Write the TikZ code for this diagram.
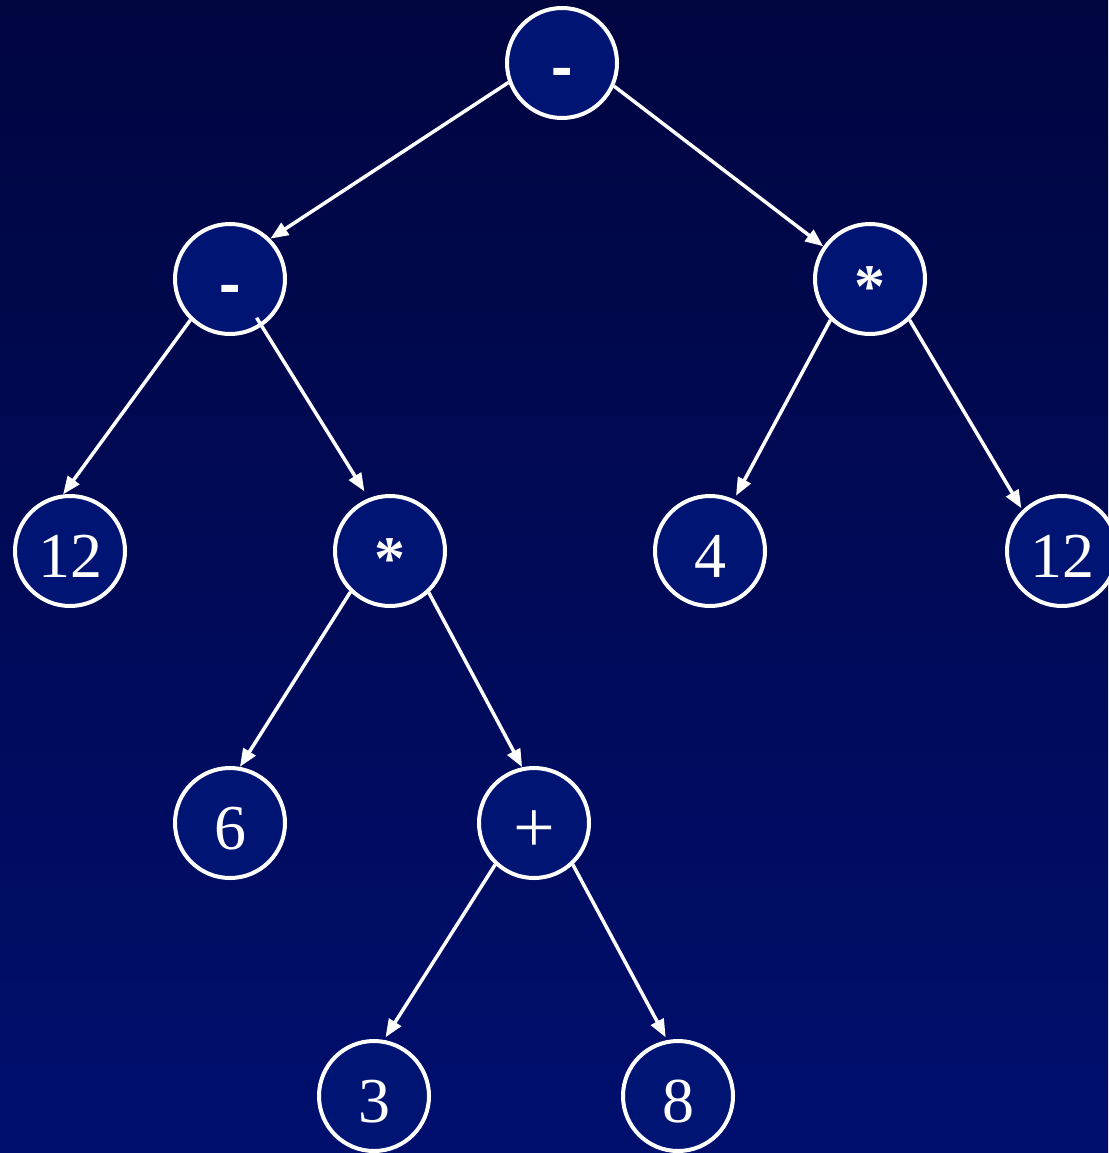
\documentclass[tikz,border=0pt]{standalone}
\usepackage{fontspec}
\setmainfont{Liberation Serif}
\usetikzlibrary{arrows.meta}
\definecolor{bgtop}{RGB}{0,5,64}
\definecolor{bgbot}{RGB}{0,15,110}
\definecolor{nodefill}{RGB}{0,20,115}
\begin{document}
\begin{tikzpicture}[x=1pt,y=-1pt,
  tnode/.style={circle,draw=white,line width=4pt,fill=nodefill,minimum size=110pt,
    inner sep=0pt,text=white,font=\fontsize{64}{70}\selectfont,text height=52pt,text depth=0pt},
  opnode/.style={tnode,font=\fontsize{64}{70}\selectfont\bfseries,text height=58pt},
  starnode/.style={tnode,font=\fontsize{62}{70}\selectfont\bfseries,text height=56pt},
  plusnode/.style={tnode,font=\fontsize{74}{80}\selectfont,text height=58pt},
  arr/.style={draw=white,line width=3.5pt,-{Triangle[length=18pt,width=14pt]}}]
\useasboundingbox (0,0) rectangle (1108,1153);
\fill[top color=bgtop,bottom color=bgbot] (0,0) rectangle (1108,1153);
\node[opnode] (root) at (562,63) {\scalebox{1}[1.3]{-}};
\node[opnode] (lm) at (230,279) {\scalebox{1}[1.3]{-}};
\node[starnode] (rm) at (870,279) {*};
\node[tnode] (a12) at (70,551) {12};
\node[starnode] (mul) at (390,551) {*};
\node[tnode] (n4) at (710,551) {4};
\node[tnode] (b12) at (1062,551) {12};
\node[tnode] (n6) at (230,823) {6};
\node[plusnode] (plus) at (534,823) {+};
\node[tnode] (n3) at (374,1096) {3};
\node[tnode] (n8) at (678,1096) {8};
\draw[arr] (root.-160) -- (lm.45);
\draw[arr] (root.-24) -- (rm.145);
\draw[arr] (lm.-134) -- (a12.97);
\draw[arr,shorten <=-10pt,shorten >=8pt] (lm.-56) -- (mul.112);
\draw[arr,shorten >=4pt] (rm.-134) -- (n4.65);
\draw[arr,shorten >=2pt] (rm.-46) -- (b12.134);
\draw[arr] (mul.-134) -- (n6.80);
\draw[arr] (mul.-47) -- (plus.102);
\draw[arr,shorten >=3pt] (plus.-133) -- (n3.80);
\draw[arr,shorten >=3pt] (plus.-47) -- (n8.101);
\end{tikzpicture}
\end{document}
